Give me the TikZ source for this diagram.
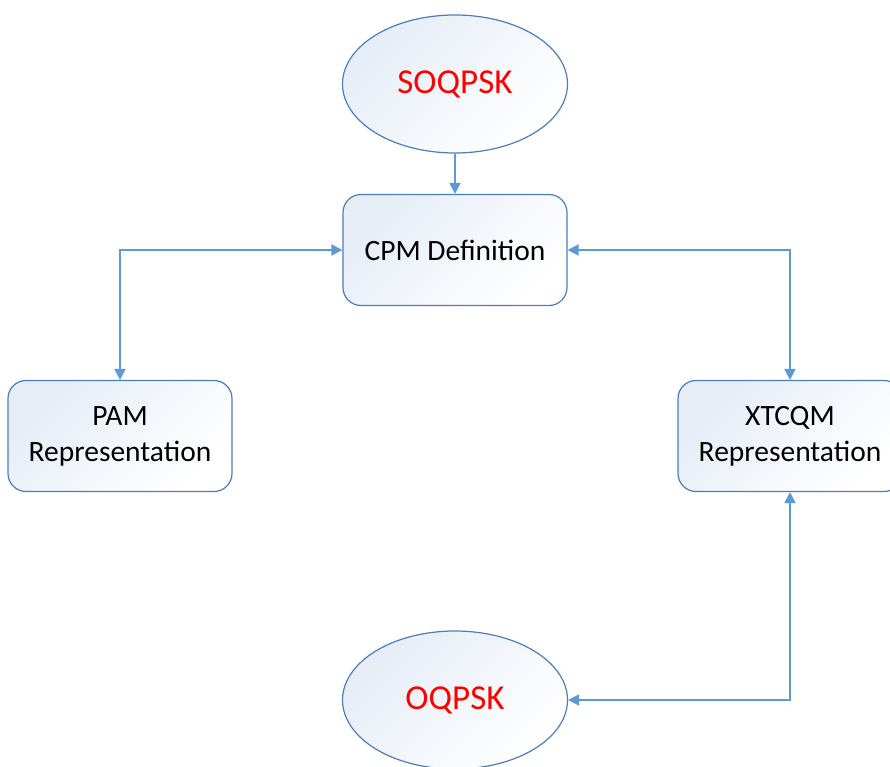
\documentclass[tikz,border=0pt]{standalone}
\usepackage{fontspec}
\setmainfont{Carlito}
\usepackage{xcolor}
\usepackage{tikz}
\usetikzlibrary{arrows.meta,shapes.geometric}
\definecolor{edge}{HTML}{4A7EBB}
\definecolor{wire}{HTML}{5B9BD5}
\definecolor{tint}{HTML}{E6EDF7}
\definecolor{mode}{HTML}{FF0000}
\tikzset{
  stage/.style={draw=edge, line width=1.2pt, rounded corners=18pt,
    top color=tint, bottom color=white, shading angle=45,
    minimum width=224pt, minimum height=111pt, align=center,
    font=\fontsize{29.5}{36}\selectfont, text=black},
  modul/.style={ellipse, draw=edge, line width=1.2pt,
    top color=tint, bottom color=white, shading angle=45,
    minimum width=225pt, minimum height=138pt,
    font=\fontsize{35}{42}\selectfont, text=mode},
  link/.style={draw=wire, line width=2pt, -{Triangle[length=11pt,width=11pt]}},
  both/.style={draw=wire, line width=2pt,
    {Triangle[length=11pt,width=11pt]}-{Triangle[length=11pt,width=11pt]}},
}

\begin{document}
\begin{tikzpicture}[x=1pt,y=-1pt]
  \useasboundingbox (0,0) rectangle (890,767);
  \clip (0,0) rectangle (890,767);
  % signals
  \node[modul] (soq) at (455,84) {SOQPSK};
  \node[modul] (oqp) at (455,700) {OQPSK};
  % representations
  \node[stage] (cpm) at (455,250) {CPM Definition};
  \node[stage] (pam) at (120,436) {PAM\\Representation};
  \node[stage] (xtc) at (790,436) {XTCQM\\Representation};
  % connectors
  \draw[link] (soq.south) -- (cpm.north);
  \draw[both] (cpm.west) -| (pam.north);
  \draw[both] (cpm.east) -| (xtc.north);
  \draw[both] (xtc.south) |- (oqp.east);
\end{tikzpicture}
\end{document}
